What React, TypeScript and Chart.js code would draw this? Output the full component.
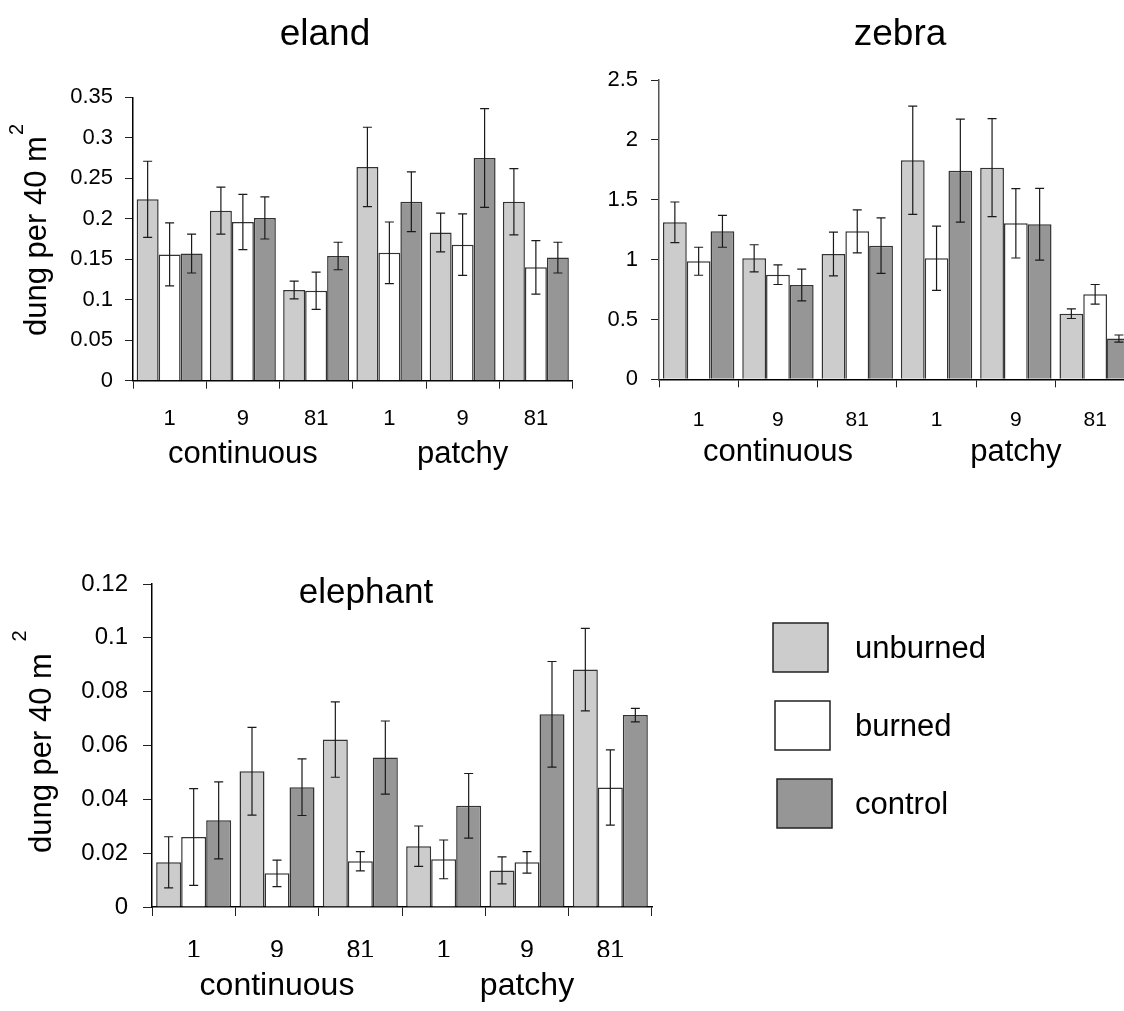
import React, { useEffect, useRef } from 'react';
import { Chart, registerables } from 'chart.js';

Chart.register(...registerables);

const FONT = "'Liberation Sans', Arial, Helvetica, sans-serif";

// ---- data ----
const categories = ['1', '9', '81', '1', '9', '81'];
const groupLabels = ['', 'continuous', '', '', 'patchy', ''];
const seriesNames = ['unburned', 'burned', 'control'];
const seriesColors = ['#cccccc', '#ffffff', '#969696'];

const elandUnburned = [0.224, 0.21, 0.112, 0.264, 0.183, 0.221];
const elandBurned = [0.156, 0.196, 0.111, 0.158, 0.168, 0.14];
const elandControl = [0.157, 0.201, 0.154, 0.221, 0.275, 0.152];
const elandUnburnedErr = [0.047, 0.029, 0.011, 0.049, 0.024, 0.041];
const elandBurnedErr = [0.039, 0.034, 0.023, 0.038, 0.038, 0.033];
const elandControlErr = [0.024, 0.026, 0.017, 0.037, 0.061, 0.019];

const zebraUnburned = [1.311, 1.011, 1.047, 1.829, 1.768, 0.548];
const zebraBurned = [0.986, 0.874, 1.236, 1.011, 1.303, 0.71];
const zebraControl = [1.236, 0.788, 1.116, 1.743, 1.295, 0.34];
const zebraUnburnedErr = [0.17, 0.113, 0.183, 0.452, 0.41, 0.04];
const zebraBurnedErr = [0.117, 0.082, 0.18, 0.268, 0.29, 0.082];
const zebraControlErr = [0.133, 0.133, 0.232, 0.43, 0.3, 0.03];

const elephantUnburned = [0.0166, 0.0504, 0.0622, 0.0226, 0.0136, 0.0882];
const elephantBurned = [0.026, 0.0125, 0.017, 0.0177, 0.0166, 0.0444];
const elephantControl = [0.0322, 0.0445, 0.0555, 0.0376, 0.0716, 0.0713];
const elephantUnburnedErr = [0.0095, 0.0163, 0.014, 0.0075, 0.005, 0.0153];
const elephantBurnedErr = [0.018, 0.0049, 0.0036, 0.0072, 0.004, 0.014];
const elephantControlErr = [0.0143, 0.0105, 0.0136, 0.012, 0.0196, 0.0025];

const elandYMax = 0.35;
const elandYStep = 0.05;
const zebraYMax = 2.5;
const zebraYStep = 0.5;
const elephantYMax = 0.12;
const elephantYStep = 0.02;

const yLabelText = 'dung per 40 m';
const yLabelSup = '2';

// ---- plugins ----
const errorBarPlugin = {
  id: 'errorBars',
  afterDatasetsDraw(chart: any) {
    const ctx = chart.ctx;
    const yScale = chart.scales.y;
    chart.data.datasets.forEach((ds: any, di: number) => {
      const meta = chart.getDatasetMeta(di);
      meta.data.forEach((bar: any, i: number) => {
        const v = ds.data[i];
        const e = ds.errors[i];
        const yHi = yScale.getPixelForValue(v + e);
        const yLo = yScale.getPixelForValue(v - e);
        const x = bar.x;
        ctx.save();
        ctx.strokeStyle = '#1a1a1a';
        ctx.lineWidth = 1.2;
        ctx.beginPath();
        ctx.moveTo(x, yHi);
        ctx.lineTo(x, yLo);
        ctx.moveTo(x - 4.5, yHi);
        ctx.lineTo(x + 4.5, yHi);
        ctx.moveTo(x - 4.5, yLo);
        ctx.lineTo(x + 4.5, yLo);
        ctx.stroke();
        ctx.restore();
      });
    });
  },
};

const panelTextPlugin = {
  id: 'panelText',
  afterDraw(chart: any, _args: any, o: any) {
    const ctx = chart.ctx;
    ctx.save();
    ctx.fillStyle = '#000';
    if (o.title) {
      ctx.font = `${o.title.size}px ${FONT}`;
      ctx.textAlign = 'center';
      ctx.textBaseline = 'alphabetic';
      ctx.fillText(o.title.text, o.title.x, o.title.y);
    }
    if (o.ylabel) {
      const l = o.ylabel;
      ctx.save();
      ctx.translate(l.x, l.y);
      ctx.rotate(-Math.PI / 2);
      ctx.textAlign = 'left';
      ctx.textBaseline = 'alphabetic';
      ctx.font = `${l.size}px ${FONT}`;
      ctx.fillText(l.text, 0, 0);
      const w = ctx.measureText(l.text).width;
      ctx.font = `${l.supSize}px ${FONT}`;
      ctx.fillText(l.sup, w + l.supGap, -l.raise);
      ctx.restore();
    }
    if (o.legend) {
      const g = o.legend;
      chart.data.datasets.forEach((ds: any, i: number) => {
        const bx = g.x + g.shift * i;
        const by = g.y + g.dy * i;
        ctx.fillStyle = ds.backgroundColor;
        ctx.fillRect(bx, by, g.w, g.h);
        ctx.strokeStyle = '#222';
        ctx.lineWidth = 1.5;
        ctx.strokeRect(bx, by, g.w, g.h);
        ctx.fillStyle = '#000';
        ctx.font = `${g.size}px ${FONT}`;
        ctx.textAlign = 'left';
        ctx.textBaseline = 'alphabetic';
        ctx.fillText(ds.label, g.textX, by + g.h / 2 + g.textDy);
      });
    }
    ctx.restore();
  },
};

const fmt = (v: any) => String(+(+v).toFixed(4));

function makeConfig(p: any) {
  const series = [p.unburned, p.burned, p.control];
  const errs = [p.unburnedErr, p.burnedErr, p.controlErr];
  return {
    type: 'bar',
    data: {
      labels: categories,
      datasets: series.map((d: number[], i: number) => ({
        label: seriesNames[i],
        data: d,
        errors: errs[i],
        backgroundColor: seriesColors[i],
        borderColor: '#333333',
        borderWidth: 1.5,
        categoryPercentage: 0.9,
        barPercentage: 1.0,
      })),
    },
    options: {
      animation: false,
      responsive: false,
      maintainAspectRatio: false,
      devicePixelRatio: 1,
      layout: { padding: { left: 0, right: p.padRight, top: p.padTop, bottom: p.padBottom } },
      plugins: {
        legend: { display: false },
        tooltip: { enabled: false },
        title: { display: false },
        panelText: p.text,
      },
      scales: {
        x: {
          type: 'category',
          offset: true,
          weight: 0,
          ticks: {
            color: '#000',
            font: { family: FONT, size: p.xFont },
            padding: p.xPad,
            autoSkip: false,
            maxRotation: 0,
            minRotation: 0,
          },
          grid: {
            display: true,
            offset: true,
            drawOnChartArea: false,
            drawTicks: true,
            tickLength: p.xTickLen,
            color: '#222',
            lineWidth: 1,
          },
          border: { display: true, color: '#000', width: 1.5 },
          afterFit: (s: any) => {
            s.height = 50;
          },
        },
        x2: {
          type: 'category',
          labels: groupLabels,
          position: 'bottom',
          offset: true,
          weight: 1,
          ticks: {
            color: '#000',
            font: { family: FONT, size: p.groupFont },
            padding: p.groupPad,
            autoSkip: false,
            maxRotation: 0,
            minRotation: 0,
          },
          grid: { display: false, drawTicks: false, drawOnChartArea: false },
          border: { display: false },
          afterFit: (s: any) => {
            s.height = 50;
          },
        },
        y: {
          type: 'linear',
          min: 0,
          max: p.yMax,
          ticks: {
            stepSize: p.yStep,
            color: '#000',
            font: { family: FONT, size: p.yFont },
            padding: p.yPad,
            callback: fmt,
          },
          grid: {
            display: true,
            drawOnChartArea: false,
            drawTicks: true,
            tickLength: p.yTickLen,
            color: '#222',
            lineWidth: 1,
          },
          border: { display: true, color: p.yAxisColor, width: 1.5 },
          afterFit: (s: any) => {
            s.width = p.yAxisW;
          },
        },
      },
    },
    plugins: [errorBarPlugin, panelTextPlugin],
  };
}

const panels = [
  {
    key: 'eland',
    left: 0,
    top: 0,
    width: 590,
    height: 490,
    yAxisW: 133,
    padRight: 17.5,
    padTop: 97.3,
    padBottom: 9.3,
    yMax: elandYMax,
    yStep: elandYStep,
    yFont: 22,
    yPad: 12,
    yTickLen: 8,
    yAxisColor: '#000',
    xFont: 22,
    xPad: 17,
    xTickLen: 8,
    groupFont: 31,
    groupPad: 5,
    unburned: elandUnburned,
    burned: elandBurned,
    control: elandControl,
    unburnedErr: elandUnburnedErr,
    burnedErr: elandBurnedErr,
    controlErr: elandControlErr,
    text: {
      title: { text: 'eland', x: 325, y: 45, size: 37 },
      ylabel: { text: yLabelText, sup: yLabelSup, x: 46, y: 336, size: 31, supSize: 20, raise: 23, supGap: 1 },
    },
  },
  {
    key: 'zebra',
    left: 590,
    top: 0,
    width: 570,
    height: 490,
    yAxisW: 69,
    padRight: 25.2,
    padTop: 80,
    padBottom: 10.7,
    yMax: zebraYMax,
    yStep: zebraYStep,
    yFont: 22,
    yPad: 13,
    yTickLen: 8,
    yAxisColor: '#555',
    xFont: 21,
    xPad: 20,
    xTickLen: 8,
    groupFont: 31,
    groupPad: 4.4,
    unburned: zebraUnburned,
    burned: zebraBurned,
    control: zebraControl,
    unburnedErr: zebraUnburnedErr,
    burnedErr: zebraBurnedErr,
    controlErr: zebraControlErr,
    text: {
      title: { text: 'zebra', x: 310, y: 45, size: 37 },
    },
  },
  {
    key: 'elephant',
    left: 0,
    top: 500,
    width: 1124,
    height: 511,
    yAxisW: 152,
    padRight: 472,
    padTop: 84,
    padBottom: 4,
    yMax: elephantYMax,
    yStep: elephantYStep,
    yFont: 24,
    yPad: 15,
    yTickLen: 9,
    yAxisColor: '#000',
    xFont: 25,
    xPad: 19.8,
    xTickLen: 9,
    groupFont: 32,
    groupPad: 9.7,
    unburned: elephantUnburned,
    burned: elephantBurned,
    control: elephantControl,
    unburnedErr: elephantUnburnedErr,
    burnedErr: elephantBurnedErr,
    controlErr: elephantControlErr,
    text: {
      title: { text: 'elephant', x: 366, y: 103, size: 35 },
      ylabel: { text: yLabelText + ' ', sup: yLabelSup, x: 51, y: 353, size: 31, supSize: 20, raise: 25, supGap: 3 },
      legend: { x: 773, y: 123, dy: 78, shift: 2, w: 55, h: 49, textX: 855, textDy: 10, size: 31 },
    },
  },
];

function Panel({ p }: { p: any }) {
  const ref = useRef<HTMLCanvasElement | null>(null);
  useEffect(() => {
    if (!ref.current) return;
    const chart = new Chart(ref.current, makeConfig(p) as any);
    return () => chart.destroy();
  }, []);
  return (
    <canvas
      ref={ref}
      width={p.width}
      height={p.height}
      style={{ position: 'absolute', left: p.left, top: p.top, width: p.width, height: p.height }}
    />
  );
}

export default function App() {
  return (
    <div
      style={{
        position: 'fixed',
        left: 0,
        top: 0,
        width: 1124,
        height: 1011,
        overflow: 'hidden',
        background: '#fff',
      }}
    >
      {panels.map((p) => (
        <Panel key={p.key} p={p} />
      ))}
    </div>
  );
}
